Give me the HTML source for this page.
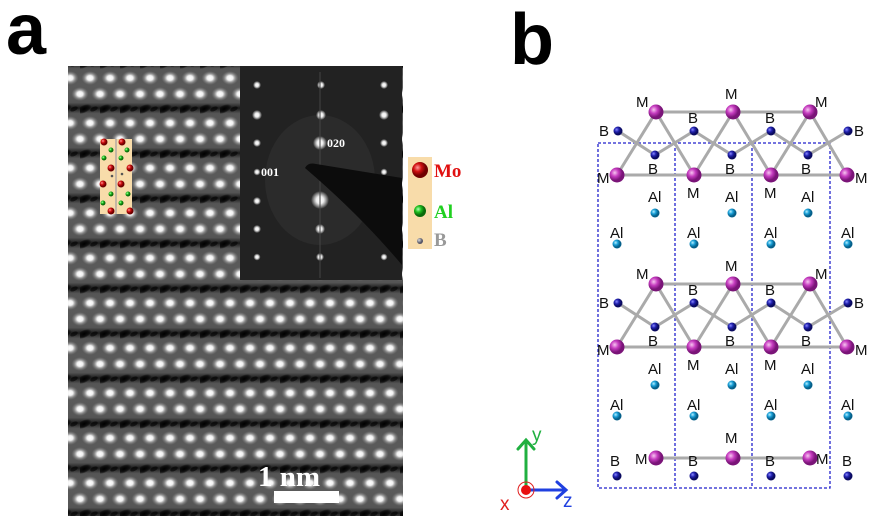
<!DOCTYPE html>
<html><head><meta charset="utf-8"><style>
html,body{margin:0;padding:0;background:#fff;width:876px;height:528px;overflow:hidden}
svg{display:block}
text{font-family:"Liberation Sans",sans-serif}
</style></head><body>
<svg width="876" height="528" viewBox="0 0 876 528" xmlns="http://www.w3.org/2000/svg">
<defs>
<radialGradient id="wd"><stop offset="0" stop-color="#fff"/><stop offset="0.35" stop-color="#f0f0f0"/><stop offset="0.7" stop-color="#aaa" stop-opacity="0.5"/><stop offset="1" stop-color="#888" stop-opacity="0"/></radialGradient>
<radialGradient id="dk"><stop offset="0" stop-color="#000"/><stop offset="0.6" stop-color="#0a0a0a" stop-opacity="0.85"/><stop offset="1" stop-color="#000" stop-opacity="0"/></radialGradient>
<radialGradient id="sp"><stop offset="0" stop-color="#fff"/><stop offset="0.4" stop-color="#eee"/><stop offset="1" stop-color="#fff" stop-opacity="0"/></radialGradient>
<radialGradient id="mg" cx="0.35" cy="0.35"><stop offset="0" stop-color="#f7c6f0"/><stop offset="0.5" stop-color="#c63cc0"/><stop offset="1" stop-color="#7a1478"/></radialGradient>
<radialGradient id="bl" cx="0.35" cy="0.35"><stop offset="0" stop-color="#8a8aff"/><stop offset="0.5" stop-color="#2222b0"/><stop offset="1" stop-color="#0a0a60"/></radialGradient>
<radialGradient id="cy" cx="0.35" cy="0.35"><stop offset="0" stop-color="#b8f0ff"/><stop offset="0.5" stop-color="#1aa0d8"/><stop offset="1" stop-color="#05608a"/></radialGradient>
<radialGradient id="rd" cx="0.35" cy="0.35"><stop offset="0" stop-color="#ff9a9a"/><stop offset="0.5" stop-color="#d01010"/><stop offset="1" stop-color="#700000"/></radialGradient>
<radialGradient id="gr" cx="0.35" cy="0.35"><stop offset="0" stop-color="#b0ffb0"/><stop offset="0.5" stop-color="#20c020"/><stop offset="1" stop-color="#0a6a0a"/></radialGradient>
<radialGradient id="gy" cx="0.35" cy="0.35"><stop offset="0" stop-color="#ddd"/><stop offset="1" stop-color="#556"/></radialGradient>
<linearGradient id="band" x1="0" y1="0" x2="0" y2="1">
<stop offset="0" stop-color="#1a1a1a"/><stop offset="0.12" stop-color="#555"/><stop offset="0.5" stop-color="#5a5a5a"/><stop offset="0.88" stop-color="#555"/><stop offset="1" stop-color="#1a1a1a"/></linearGradient>
<pattern id="tem" x="80" y="63" width="20" height="45" patternUnits="userSpaceOnUse">
<rect width="20" height="45" fill="url(#band)"/>
<ellipse cx="4" cy="1" rx="8" ry="4" fill="url(#dk)" transform="rotate(-25 4 1)"/>
<ellipse cx="4" cy="46" rx="8" ry="4" fill="url(#dk)" transform="rotate(-25 4 46)"/>
<ellipse cx="14" cy="1" rx="4" ry="2" fill="#000" opacity="0.6" transform="rotate(-25 14 1)"/>
<ellipse cx="14" cy="46" rx="4" ry="2" fill="#000" opacity="0.6" transform="rotate(-25 14 46)"/>
<ellipse cx="10" cy="15" rx="8.5" ry="7" fill="url(#wd)"/>
<ellipse cx="0" cy="31" rx="8.5" ry="7" fill="url(#wd)"/>
<ellipse cx="20" cy="31" rx="8.5" ry="7" fill="url(#wd)"/>
</pattern>
</defs>

<text x="6" y="54" font-size="72" font-weight="bold">a</text>
<text x="510" y="64" font-size="72" font-weight="bold">b</text>

<!-- TEM -->
<rect x="68" y="66" width="335" height="450" fill="#555"/>
<rect x="68" y="66" width="335" height="450" fill="url(#tem)"/>

<!-- small inset -->
<rect x="100" y="139" width="32" height="75" fill="#f8dcaa"/>
<line x1="116" y1="139" x2="116" y2="214" stroke="#9090a0" stroke-width="1"/>
<g>
<circle cx="104" cy="142" r="3.5" fill="url(#rd)"/><circle cx="122" cy="142" r="3.5" fill="url(#rd)"/>
<circle cx="111" cy="150" r="2.5" fill="url(#gr)"/><circle cx="127" cy="150" r="2.5" fill="url(#gr)"/>
<circle cx="104" cy="158" r="2.5" fill="url(#gr)"/><circle cx="121" cy="158" r="2.5" fill="url(#gr)"/>
<circle cx="111" cy="168" r="3.5" fill="url(#rd)"/><circle cx="130" cy="168" r="3.5" fill="url(#rd)"/>
<circle cx="112" cy="176" r="1.3" fill="#555"/><circle cx="122" cy="174" r="1.3" fill="#555"/>
<circle cx="103" cy="184" r="3.5" fill="url(#rd)"/><circle cx="121" cy="184" r="3.5" fill="url(#rd)"/>
<circle cx="111" cy="194" r="2.5" fill="url(#gr)"/><circle cx="128" cy="194" r="2.5" fill="url(#gr)"/>
<circle cx="103" cy="203" r="2.5" fill="url(#gr)"/><circle cx="121" cy="203" r="2.5" fill="url(#gr)"/>
<circle cx="111" cy="211" r="3.5" fill="url(#rd)"/><circle cx="130" cy="211" r="3.5" fill="url(#rd)"/>
</g>

<!-- diffraction inset -->
<rect x="240" y="66" width="162" height="214" fill="#222"/>
<ellipse cx="320" cy="180" rx="55" ry="65" fill="#333" opacity="0.5"/>
<g fill="url(#sp)">
<circle cx="257" cy="85" r="4"/><circle cx="321" cy="85" r="4"/><circle cx="384" cy="85" r="4"/>
<circle cx="257" cy="115" r="5"/><circle cx="321" cy="115" r="5"/><circle cx="384" cy="115" r="5"/>
<circle cx="257" cy="143" r="4"/><circle cx="320" cy="143" r="7"/><circle cx="384" cy="143" r="4"/>
<circle cx="257" cy="172" r="3.5"/><circle cx="384" cy="172" r="3.5"/>
<circle cx="257" cy="201" r="4"/><circle cx="320" cy="200" r="9"/>
<circle cx="257" cy="229" r="4"/><circle cx="320" cy="229" r="5"/>
<circle cx="257" cy="257" r="3.5"/><circle cx="320" cy="257" r="4"/><circle cx="384" cy="257" r="3.5"/>
</g>
<line x1="320" y1="72" x2="320" y2="278" stroke="#444" stroke-width="1"/>
<path d="M305,168 Q308,162 316,164 L402,178 L402,265 Q360,215 305,168 Z" fill="#0c0c0c"/>
<text x="327" y="147" font-size="12" font-weight="bold" fill="#fff" style="font-family:'Liberation Serif',serif">020</text>
<text x="261" y="176" font-size="12" font-weight="bold" fill="#fff" style="font-family:'Liberation Serif',serif">001</text>

<!-- scale bar -->
<text x="258" y="486" font-size="29" font-weight="bold" fill="#fff" style="font-family:'Liberation Serif',serif">1 nm</text>
<rect x="274" y="491" width="65" height="12" fill="#fff"/>

<!-- legend -->
<rect x="408" y="157" width="24" height="92" fill="#f8dcaa"/>
<circle cx="420" cy="170" r="8" fill="url(#rd)"/>
<circle cx="420" cy="211" r="6" fill="url(#gr)"/>
<circle cx="420" cy="241" r="3" fill="url(#gy)"/>
<g font-weight="bold" font-size="19">
<text x="434" y="177" fill="#e01010" style="font-family:'Liberation Serif',serif">Mo</text>
<text x="434" y="218" fill="#20d020" style="font-family:'Liberation Serif',serif">Al</text>
<text x="434" y="246" fill="#999" style="font-family:'Liberation Serif',serif">B</text>
</g>

<!-- panel b -->
<g stroke="#2222cc" stroke-width="1.3" stroke-dasharray="3,2" fill="none">
<rect x="598" y="143" width="232" height="345"/>
<line x1="675" y1="143" x2="675" y2="488"/><line x1="752" y1="143" x2="752" y2="488"/>
</g>

<g id="layer">
<g stroke="#aaa" stroke-width="3" fill="none">
<line x1="656" y1="112" x2="810" y2="112"/>
<line x1="617" y1="175" x2="847" y2="175"/>
<polyline points="618,131 655,155 694,131 732,155 771,131 808,155 848,131"/>
<line x1="656" y1="112" x2="617" y2="175"/><line x1="656" y1="112" x2="694" y2="175"/>
<line x1="733" y1="112" x2="694" y2="175"/><line x1="733" y1="112" x2="771" y2="175"/>
<line x1="810" y1="112" x2="771" y2="175"/><line x1="810" y1="112" x2="847" y2="175"/>
</g>
<g fill="url(#mg)">
<circle cx="656" cy="112" r="7.5"/><circle cx="733" cy="112" r="7.5"/><circle cx="810" cy="112" r="7.5"/>
<circle cx="617" cy="175" r="7.5"/><circle cx="694" cy="175" r="7.5"/><circle cx="771" cy="175" r="7.5"/><circle cx="847" cy="175" r="7.5"/>
</g>
<g fill="url(#bl)">
<circle cx="618" cy="131" r="4.5"/><circle cx="694" cy="131" r="4.5"/><circle cx="771" cy="131" r="4.5"/><circle cx="848" cy="131" r="4.5"/>
<circle cx="655" cy="155" r="4.5"/><circle cx="732" cy="155" r="4.5"/><circle cx="808" cy="155" r="4.5"/>
</g>
<g fill="url(#cy)">
<circle cx="655" cy="213" r="4.5"/><circle cx="732" cy="213" r="4.5"/><circle cx="808" cy="213" r="4.5"/>
<circle cx="617" cy="244" r="4.5"/><circle cx="694" cy="244" r="4.5"/><circle cx="771" cy="244" r="4.5"/><circle cx="848" cy="244" r="4.5"/>
</g>
<g font-size="15" fill="#111">
<text x="636" y="107">M</text><text x="725" y="99">M</text><text x="815" y="107">M</text>
<text x="599" y="136">B</text><text x="688" y="123">B</text><text x="765" y="123">B</text><text x="854" y="136">B</text>
<text x="597" y="183">M</text><text x="855" y="183">M</text>
<text x="648" y="174">B</text><text x="725" y="174">B</text><text x="801" y="174">B</text>
<text x="687" y="198">M</text><text x="764" y="198">M</text>
<text x="648" y="202">Al</text><text x="725" y="202">Al</text><text x="801" y="202">Al</text>
<text x="610" y="238">Al</text><text x="687" y="238">Al</text><text x="764" y="238">Al</text><text x="841" y="238">Al</text>
</g>
</g>
<use href="#layer" transform="translate(0,172)"/>

<!-- bottom row -->
<line x1="656" y1="458" x2="810" y2="458" stroke="#aaa" stroke-width="3"/>
<g fill="url(#mg)"><circle cx="656" cy="458" r="7.5"/><circle cx="733" cy="458" r="7.5"/><circle cx="810" cy="458" r="7.5"/></g>
<g fill="url(#bl)"><circle cx="617" cy="476" r="4.5"/><circle cx="694" cy="476" r="4.5"/><circle cx="771" cy="476" r="4.5"/><circle cx="848" cy="476" r="4.5"/></g>
<g font-size="15" fill="#111">
<text x="635" y="464">M</text><text x="725" y="443">M</text><text x="816" y="464">M</text>
<text x="610" y="466">B</text><text x="688" y="466">B</text><text x="765" y="466">B</text><text x="842" y="466">B</text>
</g>

<!-- axes -->
<g stroke-width="3" fill="none" stroke-linecap="round">
<polyline points="518,449 526,440 534,449" stroke="#20b040"/>
<line x1="526" y1="441" x2="526" y2="490" stroke="#20b040"/>
<line x1="526" y1="490" x2="565" y2="490" stroke="#2040e0"/>
<polyline points="557,482 566,490 557,498" stroke="#2040e0"/>
</g>
<circle cx="526" cy="490" r="8" fill="none" stroke="#e02020" stroke-width="1"/>
<circle cx="526" cy="490" r="5" fill="#e81010"/>
<text x="532" y="441" font-size="19" fill="#20b040">y</text>
<text x="563" y="507" font-size="19" fill="#2040e0">z</text>
<text x="500" y="510" font-size="19" fill="#e02020">x</text>
</svg>
</body></html>
